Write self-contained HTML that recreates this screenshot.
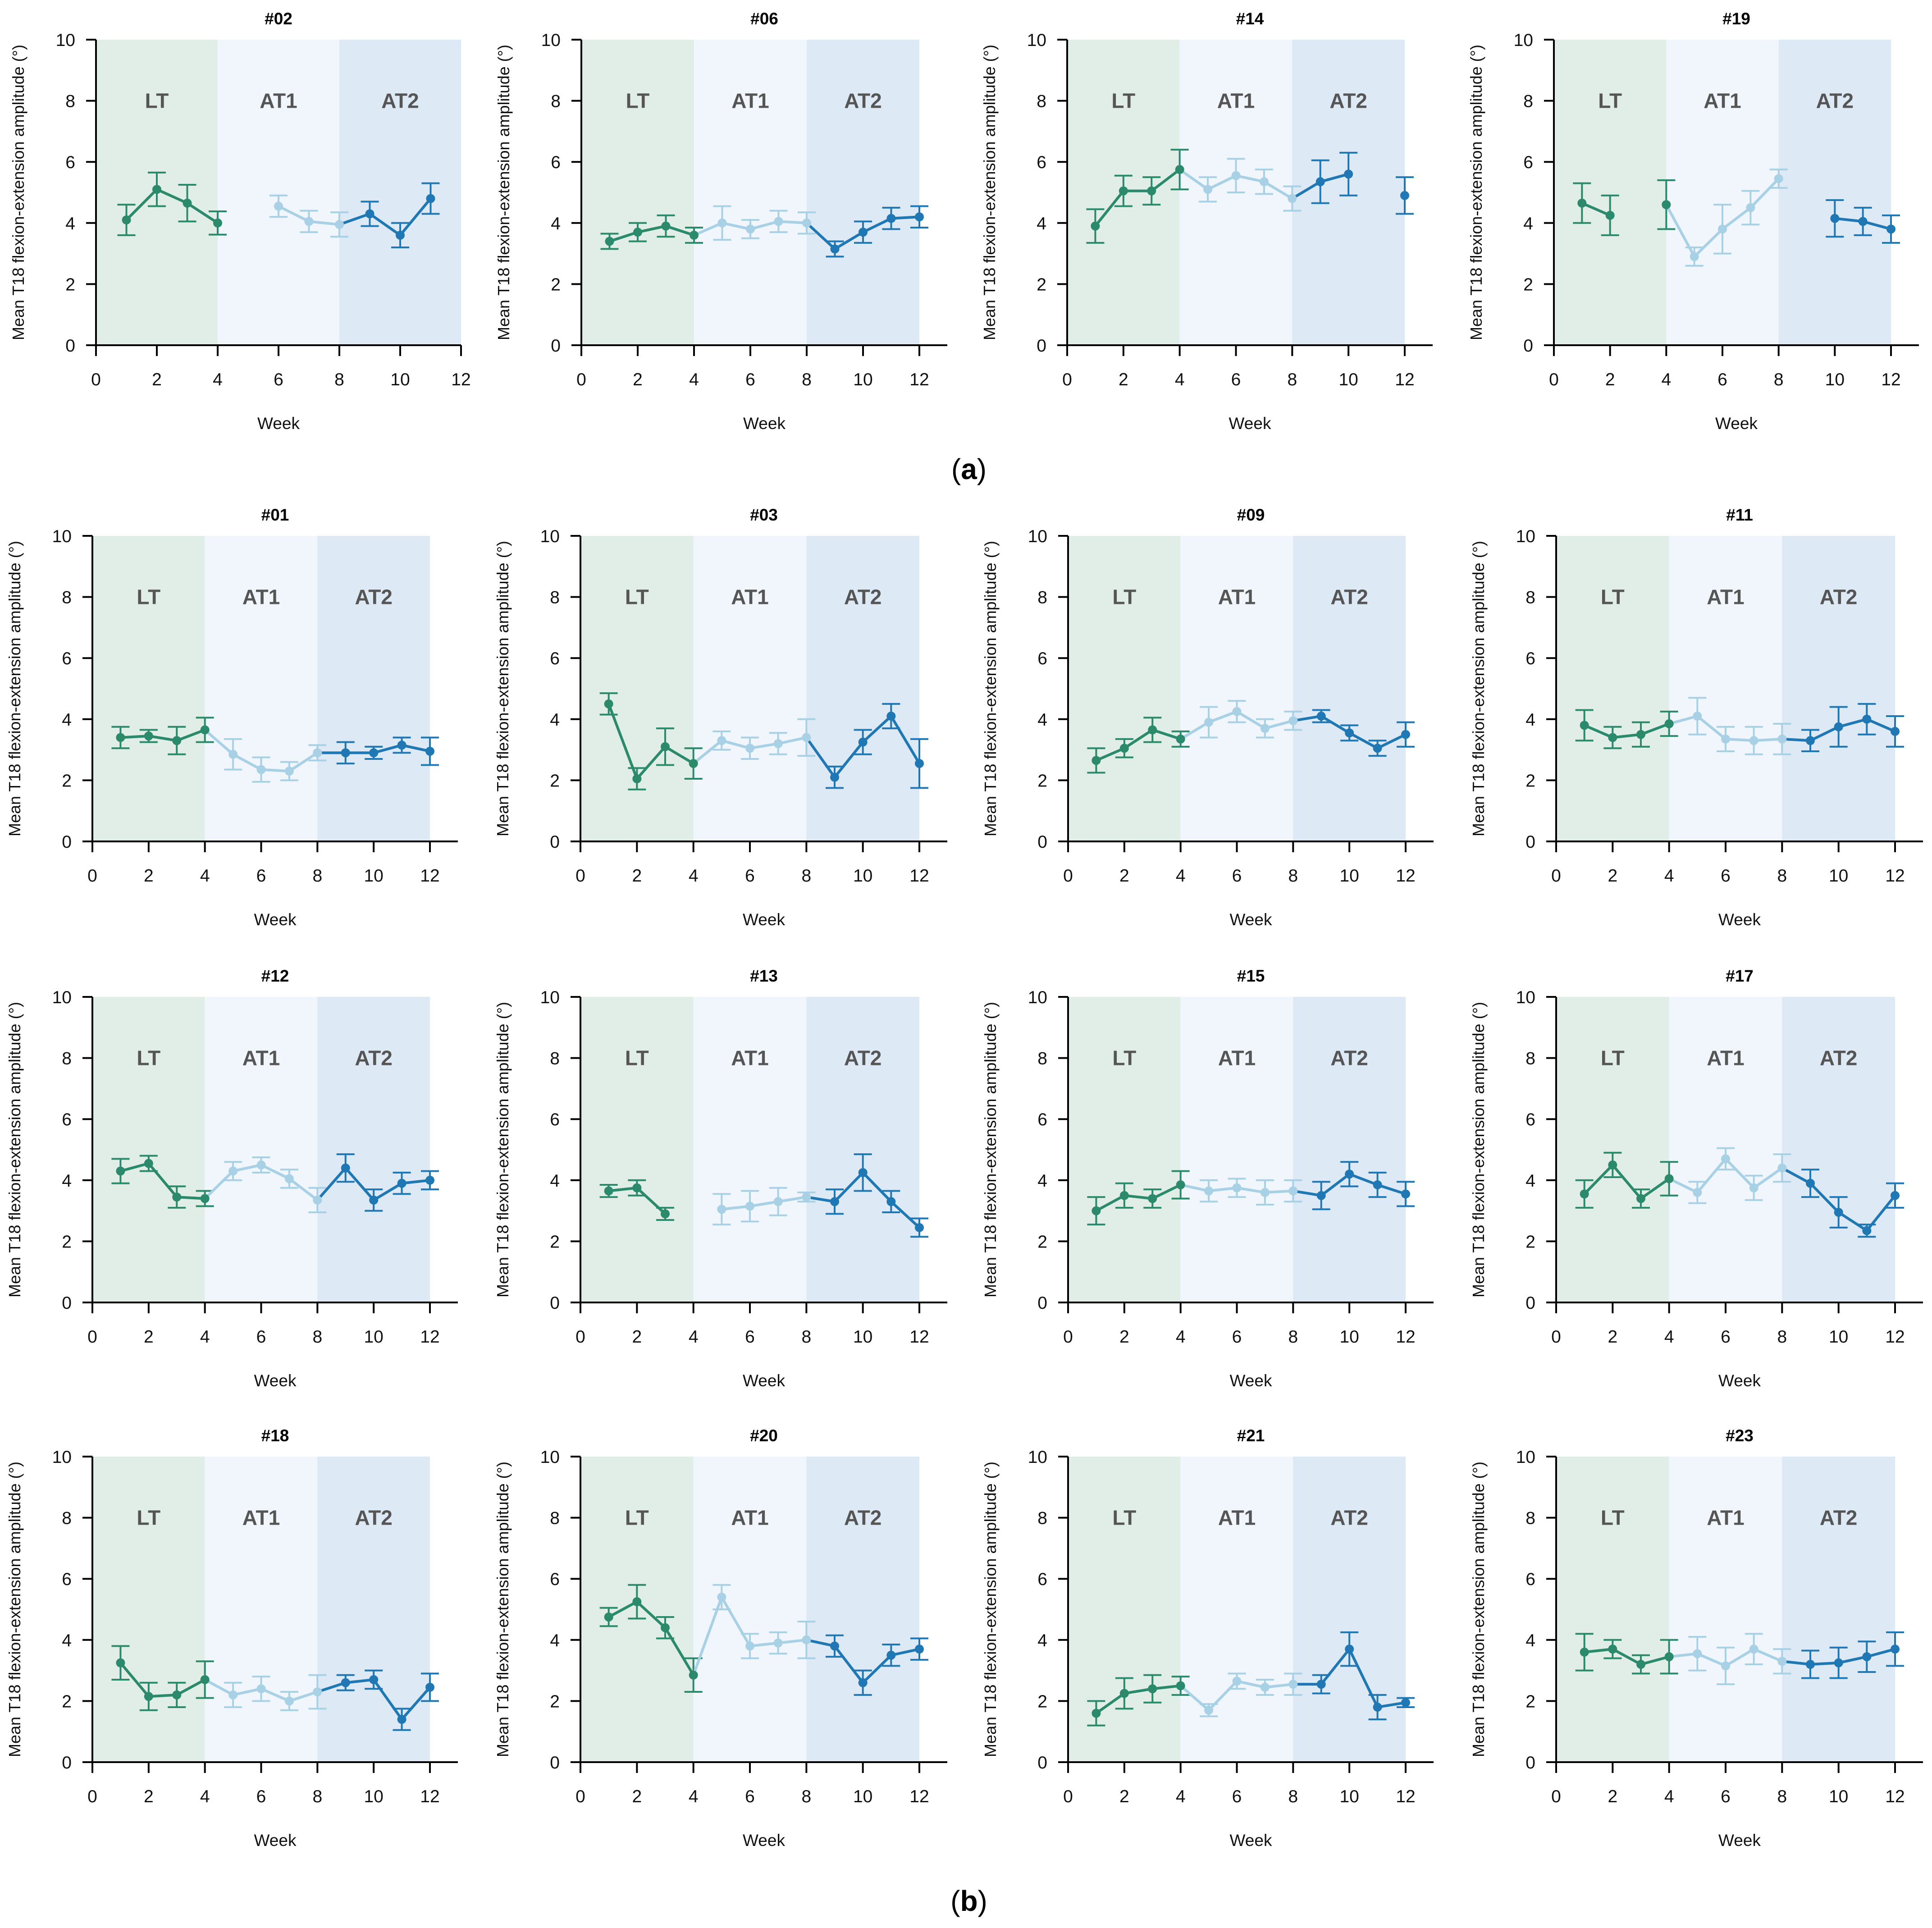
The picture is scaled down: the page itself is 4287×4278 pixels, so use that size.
<!DOCTYPE html>
<html><head><meta charset="utf-8"><style>
html,body{margin:0;padding:0;background:#fff}
svg{display:block}
text{font-family:"Liberation Sans",Arial,sans-serif}
</style></head><body>
<svg id="fig" xmlns="http://www.w3.org/2000/svg" width="4287" height="4278" viewBox="0 0 4287 4278">
<rect width="4287" height="4278" fill="#fff"/>
<text x="2150" y="1063" font-family="Liberation Serif,serif" font-size="64" text-anchor="middle">(<tspan font-weight="bold">a</tspan>)</text>
<text x="2150" y="4240" font-family="Liberation Serif,serif" font-size="64" text-anchor="middle">(<tspan font-weight="bold">b</tspan>)</text>
</svg>
<script>
const weeks = [1,2,3,4,5,6,7,8,9,10,11,12];
const panelIds = ["#02","#06","#14","#19","#01","#03","#09","#11","#12","#13","#15","#17","#18","#20","#21","#23"];
const N = null;
const means = [
 [4.1,5.1,4.65,4.0,N,4.55,4.05,3.95,4.3,3.6,4.8,N],
 [3.4,3.7,3.9,3.6,4.0,3.8,4.05,4.0,3.15,3.7,4.15,4.2],
 [3.9,5.05,5.05,5.75,5.1,5.55,5.35,4.8,5.35,5.6,N,4.9],
 [4.65,4.25,N,4.6,2.9,3.8,4.5,5.45,N,4.15,4.05,3.8],
 [3.4,3.45,3.3,3.65,2.85,2.35,2.3,2.9,2.9,2.9,3.15,2.95],
 [4.5,2.05,3.1,2.55,3.3,3.05,3.2,3.4,2.1,3.25,4.1,2.55],
 [2.65,3.05,3.65,3.35,3.9,4.25,3.7,3.95,4.1,3.55,3.05,3.5],
 [3.8,3.4,3.5,3.85,4.1,3.35,3.3,3.35,3.3,3.75,4.0,3.6],
 [4.3,4.55,3.45,3.4,4.3,4.5,4.05,3.35,4.4,3.35,3.9,4.0],
 [3.65,3.75,2.9,N,3.05,3.15,3.3,3.45,3.3,4.25,3.3,2.45],
 [3.0,3.5,3.4,3.85,3.65,3.75,3.6,3.65,3.5,4.2,3.85,3.55],
 [3.55,4.5,3.4,4.05,3.6,4.7,3.75,4.4,3.9,2.95,2.35,3.5],
 [3.25,2.15,2.2,2.7,2.2,2.4,2.0,2.3,2.6,2.7,1.4,2.45],
 [4.75,5.25,4.4,2.85,5.4,3.8,3.9,4.0,3.8,2.6,3.5,3.7],
 [1.6,2.25,2.4,2.5,1.7,2.65,2.45,2.55,2.55,3.7,1.8,1.95],
 [3.6,3.7,3.2,3.45,3.55,3.15,3.7,3.3,3.2,3.25,3.45,3.7]
];
const errs = [
 [0.5,0.55,0.6,0.38,0,0.35,0.35,0.4,0.4,0.4,0.5,0],
 [0.25,0.3,0.35,0.25,0.55,0.3,0.35,0.35,0.25,0.35,0.35,0.35],
 [0.55,0.5,0.45,0.65,0.4,0.55,0.4,0.4,0.7,0.7,0,0.6],
 [0.65,0.65,0,0.8,0.3,0.8,0.55,0.3,0,0.6,0.45,0.45],
 [0.35,0.2,0.45,0.4,0.5,0.4,0.3,0.25,0.35,0.2,0.25,0.45],
 [0.35,0.35,0.6,0.5,0.3,0.35,0.35,0.6,0.35,0.4,0.4,0.8],
 [0.4,0.3,0.4,0.25,0.5,0.35,0.3,0.3,0.2,0.25,0.25,0.4],
 [0.5,0.35,0.4,0.4,0.6,0.4,0.45,0.5,0.35,0.65,0.5,0.5],
 [0.4,0.25,0.35,0.25,0.3,0.25,0.3,0.4,0.45,0.35,0.35,0.3],
 [0.2,0.25,0.2,0,0.5,0.5,0.45,0.15,0.4,0.6,0.35,0.3],
 [0.45,0.4,0.3,0.45,0.35,0.3,0.4,0.35,0.45,0.4,0.4,0.4],
 [0.45,0.4,0.3,0.55,0.35,0.35,0.4,0.45,0.45,0.5,0.2,0.4],
 [0.55,0.45,0.4,0.6,0.4,0.4,0.3,0.55,0.25,0.3,0.35,0.45],
 [0.3,0.55,0.35,0.55,0.4,0.4,0.35,0.6,0.35,0.4,0.35,0.35],
 [0.4,0.5,0.45,0.3,0.2,0.25,0.25,0.35,0.3,0.55,0.4,0.15],
 [0.6,0.3,0.3,0.55,0.55,0.6,0.5,0.4,0.45,0.5,0.5,0.55]
];
const phaseNames = ["LT","AT1","AT2"];
const phaseStarts = [0,4,8];
const xTicks = [0,2,4,6,8,10,12];
const yTicks = [0,2,4,6,8,10];

// layout (pixel geometry, separate from data)
const rowA = {x0:[213,1290,2368,3448], x1:[1023,2040,3117,4196], top:88, bot:766};
const rowB = {x0:[205,1288,2370,3453], x1:[954,2040,3119,4205], tops:[1189,2212,3232], h:678};
const bgCols = ["#e1ede7","#f0f6fb","#dde9f4"];
const lineCols = ["#2b8a6b","#a8d1e6","#1f78b4"];
const NS = "http://www.w3.org/2000/svg";
const svg = document.getElementById('fig');
function mk(tag, attrs, parent){const e=document.createElementNS(NS,tag);for(const k in attrs)e.setAttribute(k,attrs[k]);(parent||svg).appendChild(e);return e;}
function phaseOf(w){return w<=4?0:(w<=8?1:2);}

panelIds.forEach((pid, p) => {
  let x0,x1,top,bot;
  if (p<4){x0=rowA.x0[p];x1=rowA.x1[p];top=rowA.top;bot=rowA.bot;}
  else {const r=Math.floor((p-4)/4),c=(p-4)%4;x0=rowB.x0[c];x1=rowB.x1[c];top=rowB.tops[r];bot=top+rowB.h;}
  const X = v => x0 + (x1-x0)*v/12;
  const Y = v => bot - (bot-top)*v/10;
  const g = mk('g',{});
  
  
  phaseStarts.forEach((s,i)=>{
    const r = mk('rect',{x:X(s),y:Y(10),width:X(s+4)-X(s),height:Y(0)-Y(10),fill:bgCols[i]},g);
    
    
    const t = mk('text',{x:X(s+2),y:Y(8)+16,'font-size':46,'font-weight':'bold',fill:'#555','text-anchor':'middle'},g);
    t.textContent = phaseNames[i];
    
    
  });
  const xEnd = p===0 ? X(12) : X(12)+62;
  const midX = (X(0)+xEnd)/2;
  const xa = mk('path',{d:`M${X(0)-22},${Y(0)}H${xEnd}`,stroke:'#000','stroke-width':4,fill:'none'},g);
  
  
  const ya = mk('path',{d:`M${X(0)},${Y(0)}V${Y(10)}`,stroke:'#000','stroke-width':4,fill:'none'},g);
  
  
  xTicks.forEach(v=>{
    mk('path',{d:`M${X(v)},${Y(0)}V${Y(0)+24}`,stroke:'#000','stroke-width':4},g);
    const t = mk('text',{x:X(v),y:Y(0)+89,'font-size':39,'text-anchor':'middle',fill:'#111'},g);
    t.textContent=v;
    
    
  });
  yTicks.forEach(v=>{
    mk('path',{d:`M${X(0)-22},${Y(v)}H${X(0)}`,stroke:'#000','stroke-width':4},g);
    const t = mk('text',{x:X(0)-46,y:Y(v)+14,'font-size':39,'text-anchor':'end',fill:'#111'},g);
    t.textContent=v;
    
    
  });
  const tt = mk('text',{x:midX,y:Y(10)-34,'font-size':37,'font-weight':'bold','text-anchor':'middle'},g);
  tt.textContent=pid;
  
  
  const xt = mk('text',{x:midX,y:Y(0)+186,'font-size':37,'text-anchor':'middle',fill:'#111'},g);
  xt.textContent='Week';
  
  
  const cy=(Y(0)+Y(10))/2, cx=X(0)-160;
  const yt = mk('text',{x:cx,y:cy,'font-size':36,'text-anchor':'middle',fill:'#111',transform:`rotate(-90 ${cx} ${cy})`},g);
  yt.textContent='Mean T18 flexion-extension amplitude (°)';
  
  
  const m = means[p], e = errs[p];
  weeks.forEach((w,i)=>{
    if (m[i]===null) return;
    const c = lineCols[phaseOf(w)];
    const eb = mk('path',{d:`M${X(w)},${Y(m[i]-e[i])}V${Y(m[i]+e[i])}M${X(w)-20},${Y(m[i]-e[i])}h40M${X(w)-20},${Y(m[i]+e[i])}h40`,stroke:c,'stroke-width':4,fill:'none'},g);
    
    
  });
  for (let i=1;i<weeks.length;i++){
    if (m[i]===null||m[i-1]===null) continue;
    const c = lineCols[phaseOf(weeks[i])];
    const ln = mk('path',{d:`M${X(weeks[i-1])},${Y(m[i-1])}L${X(weeks[i])},${Y(m[i])}`,stroke:c,'stroke-width':6,fill:'none','stroke-linecap':'round'},g);
    
    
  }
  weeks.forEach((w,i)=>{
    if (m[i]===null) return;
    const pt = mk('circle',{cx:X(w),cy:Y(m[i]),r:10,fill:lineCols[phaseOf(w)]},g);
    
    
  });
});
</script>
</body></html>
